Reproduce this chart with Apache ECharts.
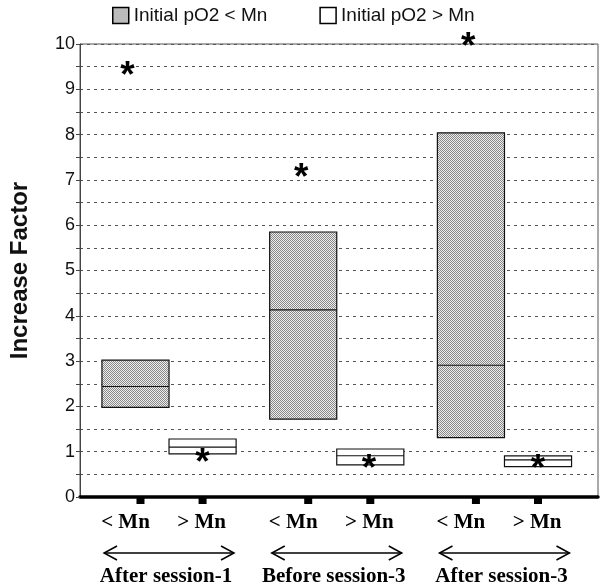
<!DOCTYPE html>
<html>
<head>
<meta charset="utf-8">
<script src="https://cdn.jsdelivr.net/npm/echarts@6/dist/echarts.min.js"></script>
<style>
html,body{margin:0;padding:0;background:#fff;}
#chart{width:600px;height:585px;}
</style>
</head>
<body>
<div id="chart"></div>
<script>
// ---- data ----
const groupNames = ['After session-1', 'Before session-3', 'After session-3'];
const subLabels = ['< Mn', '> Mn'];
const seriesNames = ['Initial pO2 < Mn', 'Initial pO2 > Mn'];

// boxes: initial pO2 < Mn
const belowX = [1, 3.5, 6];
const belowLow = [1.98, 1.72, 1.31];
const belowMedian = [2.44, 4.13, 2.91];
const belowHigh = [3.02, 5.85, 8.04];

// boxes: initial pO2 > Mn
const aboveX = [2, 4.5, 7];
const aboveLow = [0.95, 0.71, 0.67];
const aboveMedian = [1.10, 0.91, 0.82];
const aboveHigh = [1.28, 1.06, 0.91];

// asterisks
const starBelowX = [0.88, 3.47, 5.96];
const starBelowVal = [9.47, 7.22, 10.12];
const starAboveX = [2, 4.48, 7];
const starAboveVal = [0.93, 0.79, 0.79];

// y tick values
const yMin = 0, yMax = 10, yStep = 0.5;

// ---- styles ----
function makeStipple() {
  const c = document.createElement('canvas');
  c.width = 4; c.height = 4;
  const ctx = c.getContext('2d');
  ctx.fillStyle = '#eeeeee';
  ctx.fillRect(0, 0, 4, 4);
  ctx.fillStyle = '#888888';
  for (let y = 0; y < 4; y++) for (let x = 0; x < 4; x++) if ((x + y) % 2 === 0) ctx.fillRect(x, y, 1, 1);
  return c;
}
const stipple = { image: makeStipple(), repeat: 'repeat' };
const serif = '"Liberation Serif", "Times New Roman", serif';
const sans = '"Liberation Sans", Arial, sans-serif';

function boxRenderer(fill) {
  return function (params, api) {
    const x = api.value(0), lo = api.value(1), md = api.value(2), hi = api.value(3);
    const pl = api.coord([x - 0.5, lo]);
    const ph = api.coord([x + 0.5, hi]);
    const pm = api.coord([x, md]);
    return {
      type: 'group',
      children: [
        { type: 'rect', shape: { x: pl[0], y: ph[1], width: ph[0] - pl[0], height: pl[1] - ph[1] },
          style: { fill: fill, stroke: '#111', lineWidth: 1.2 } },
        { type: 'line', shape: { x1: pl[0], y1: pm[1], x2: ph[0], y2: pm[1] },
          style: { stroke: '#111', lineWidth: 1.1 } }
      ]
    };
  };
}

function starRenderer(params, api) {
  const p = api.coord([api.value(0), api.value(1)]);
  return {
    type: 'text',
    x: p[0], y: p[1] + 9,
    style: { text: '*', font: 'bold 37px ' + sans, fill: '#000', align: 'center', verticalAlign: 'middle' }
  };
}

const tickX = [];
const tickLabels = [];
for (let g = 0; g < groupNames.length; g++) {
  tickX.push(belowX[g]); tickLabels.push(subLabels[0]);
  tickX.push(aboveX[g]); tickLabels.push(subLabels[1]);
}
const groupX = belowX.map((v, i) => (v + aboveX[i]) / 2);

function tickRenderer(params, api) {
  const p = api.coord([api.value(0), 0]);
  const isBelow = params.dataIndex % 2 === 0;
  const tOff = isBelow ? 5 : 0;
  const lOff = isBelow ? -10 : -1;
  return {
    type: 'group',
    children: [
      { type: 'rect', shape: { x: p[0] - 4 + tOff, y: p[1] + 1, width: 8, height: 6 }, style: { fill: '#000' } },
      { type: 'text', x: p[0] + lOff, y: p[1] + 26,
        style: { text: tickLabels[params.dataIndex], font: 'bold 21px ' + serif, fill: '#000', align: 'center', verticalAlign: 'middle' } }
    ]
  };
}

function groupRenderer(params, api) {
  const p = api.coord([api.value(0), 0]);
  const y = p[1] + 56, half = 65, hw = 13, hh = 7;
  const x1 = p[0] - half, x2 = p[0] + half;
  return {
    type: 'group',
    children: [
      { type: 'line', shape: { x1: x1, y1: y, x2: x2, y2: y }, style: { stroke: '#000', lineWidth: 1.5 } },
      { type: 'polyline', shape: { points: [[x1 + hw, y - hh], [x1, y], [x1 + hw, y + hh]] }, style: { stroke: '#000', lineWidth: 1.5, fill: null } },
      { type: 'polyline', shape: { points: [[x2 - hw, y - hh], [x2, y], [x2 - hw, y + hh]] }, style: { stroke: '#000', lineWidth: 1.5, fill: null } },
      { type: 'text', x: p[0] - 3, y: p[1] + 80,
        style: { text: groupNames[params.dataIndex], font: 'bold 21px ' + serif, fill: '#000', align: 'center', verticalAlign: 'middle' } }
    ]
  };
}

const chart = echarts.init(document.getElementById('chart'), null, { renderer: 'canvas' });
chart.setOption({
  animation: false,
  backgroundColor: '#fff',
  legend: {
    data: seriesNames,
    left: 107, top: 1,
    icon: 'rect',
    itemWidth: 16, itemHeight: 16, itemGap: 52,
    textStyle: { fontSize: 19, fontFamily: sans, color: '#111' },
    itemStyle: { borderColor: '#000', borderWidth: 1.5 }
  },
  grid: { left: 80, right: 2, top: 44, bottom: 88, show: true, borderColor: '#555', borderWidth: 1 },
  xAxis: {
    type: 'value', min: 0.173, max: 7.894,
    axisLine: { show: true, onZero: true, lineStyle: { color: '#000', width: 3.5 } },
    axisTick: { show: false }, axisLabel: { show: false }, splitLine: { show: false }
  },
  yAxis: {
    type: 'value', min: yMin, max: yMax, interval: yStep,
    name: 'Increase Factor', nameLocation: 'middle', nameGap: 48,
    nameTextStyle: { fontFamily: sans, fontWeight: 'bold', fontSize: 24, color: '#111' },
    axisLine: { show: true, lineStyle: { color: '#444', width: 1 } },
    axisTick: { show: true, length: 4, lineStyle: { color: '#444' } },
    axisLabel: { formatter: v => (Number.isInteger(v) ? String(v) : ''), fontSize: 18, fontFamily: sans, color: '#111', margin: 5 },
    splitLine: { show: true, lineStyle: { type: [3, 4], color: '#555', width: 1 } }
  },
  series: [
    {
      name: seriesNames[0], type: 'custom', renderItem: boxRenderer(stipple), z: 3,
      itemStyle: { color: stipple, borderColor: '#000', borderWidth: 1.5 },
      data: belowX.map((x, i) => [x, belowLow[i], belowMedian[i], belowHigh[i]])
    },
    {
      name: seriesNames[1], type: 'custom', renderItem: boxRenderer('#fff'), z: 3,
      itemStyle: { color: '#fff', borderColor: '#000', borderWidth: 1.5 },
      data: aboveX.map((x, i) => [x, aboveLow[i], aboveMedian[i], aboveHigh[i]])
    },
    {
      name: 'stars', type: 'custom', renderItem: starRenderer, z: 5,
      data: starBelowX.map((x, i) => [x, starBelowVal[i]]).concat(starAboveX.map((x, i) => [x, starAboveVal[i]]))
    },
    { name: 'ticks', type: 'custom', renderItem: tickRenderer, z: 5, data: tickX.map(x => [x]) },
    { name: 'groups', type: 'custom', renderItem: groupRenderer, z: 5, data: groupX.map(x => [x]) }
  ]
});
</script>
</body>
</html>
